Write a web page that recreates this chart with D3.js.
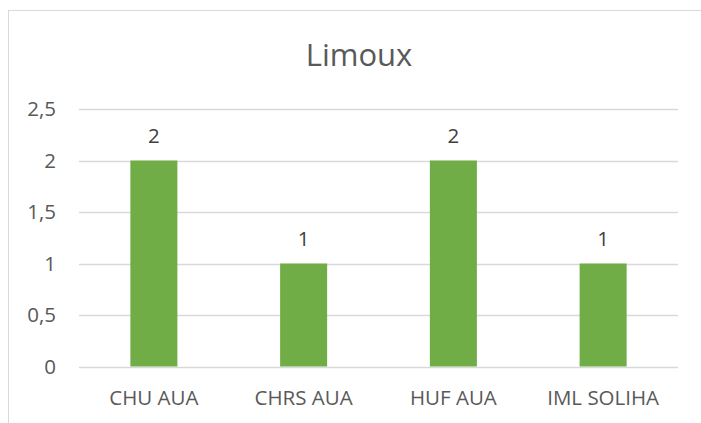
<!DOCTYPE html>
<html>
<head>
<meta charset="utf-8">
<script src="https://cdn.jsdelivr.net/npm/d3@7"></script>
<style>
  html, body { margin: 0; padding: 0; background: #fff; }
  svg { display: block; font-family: "Open Sans", "Noto Sans", sans-serif; }
</style>
</head>
<body>
<svg id="chart" width="701" height="423"></svg>
<script>
const categories = ["CHU AUA", "CHRS AUA", "HUF AUA", "IML SOLIHA"];
const values = [2, 1, 2, 1];
const yTicks = [0, 0.5, 1, 1.5, 2, 2.5];
const title = "Limoux";

const svg = d3.select("#chart");
const plotBottom = 366.5, plotTop = 109, plotLeft = 79, plotRight = 678;

// chart border
svg.append("rect")
  .attr("x", 8.5).attr("y", 10.5)
  .attr("width", 720).attr("height", 440)
  .attr("fill", "#fff")
  .attr("stroke", "#D9D9D9").attr("stroke-width", 1);

const x = d3.scaleBand().domain(categories).range([plotLeft, plotRight])
  .paddingInner(0.686).paddingOuter(0.343);
const y = d3.scaleLinear().domain([0, 2.5]).range([plotBottom, plotTop]);

const fmt = d => d3.format(".1~f")(d).replace(".", ",");

// gridlines
svg.append("g").selectAll("line").data(yTicks).join("line")
  .attr("x1", plotLeft).attr("x2", plotRight)
  .attr("y1", d => Math.round(y(d)) + 0.5).attr("y2", d => Math.round(y(d)) + 0.5)
  .attr("stroke", "#D9D9D9").attr("stroke-width", 1.5);

// y axis labels
const yAxis = d3.axisLeft(y).tickValues(yTicks).tickFormat(fmt).tickSize(0).tickPadding(0);
const yg = svg.append("g").attr("transform", `translate(56,0)`).call(yAxis);
yg.select(".domain").remove();
yg.selectAll("text").attr("fill", "#595959").attr("font-size", 20.5)
  .attr("font-family", "Open Sans").attr("dy", "0.34em");

// bars
svg.append("g").selectAll("rect").data(values).join("rect")
  .attr("x", (d, i) => x(categories[i]))
  .attr("width", x.bandwidth())
  .attr("y", d => y(d))
  .attr("height", d => y(0) - y(d))
  .attr("fill", "#70AD47");

// value labels
svg.append("g").selectAll("text").data(values).join("text")
  .attr("x", (d, i) => x(categories[i]) + x.bandwidth() / 2)
  .attr("y", d => y(d) - 18)
  .attr("text-anchor", "middle")
  .attr("font-size", 20.5)
  .attr("fill", "#404040")
  .text(d => fmt(d));

// x axis labels
const xAxis = d3.axisBottom(x).tickSize(0).tickPadding(0);
const xg = svg.append("g").attr("transform", `translate(0,${plotBottom})`).call(xAxis);
xg.select(".domain").remove();
xg.selectAll("text").attr("fill", "#595959").attr("font-size", 20.5)
  .attr("font-family", "Open Sans").attr("dy", null).attr("y", 38.5);

// title
svg.append("text")
  .attr("x", 359).attr("y", 66)
  .attr("text-anchor", "middle")
  .attr("font-size", 31)
  .attr("fill", "#595959")
  .text(title);
</script>
</body>
</html>
